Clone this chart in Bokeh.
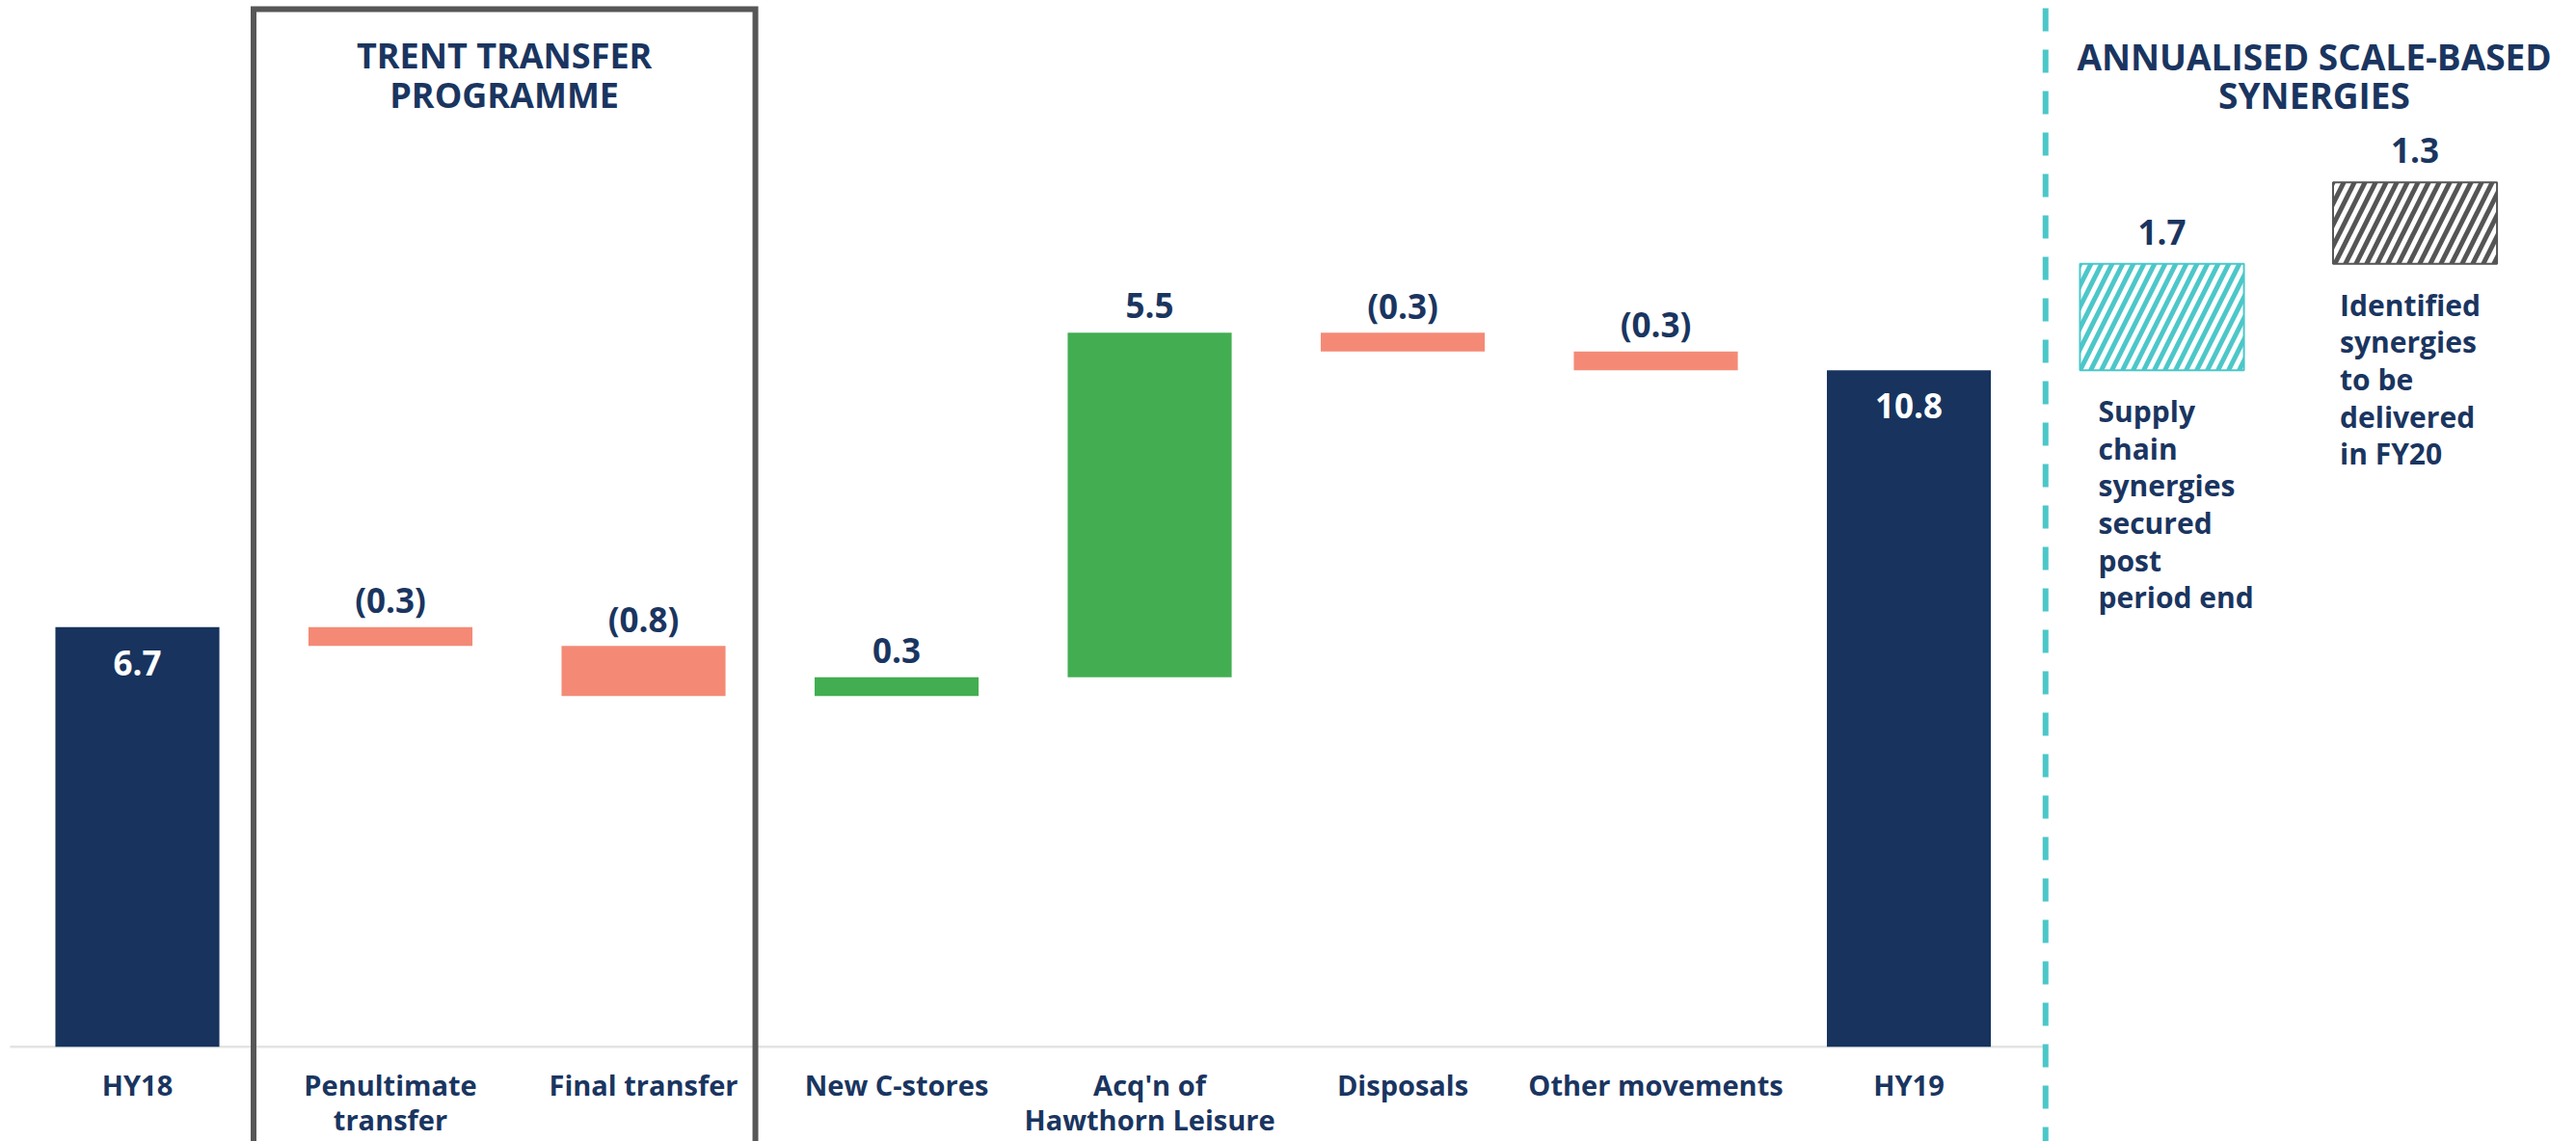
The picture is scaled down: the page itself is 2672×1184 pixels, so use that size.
from bokeh.plotting import figure
from bokeh.models import Range1d
from bokeh.embed import file_html
from bokeh.resources import INLINE
from bokeh.core.properties import value

# ---------------- data ----------------
categories = ["HY18", "Penultimate\ntransfer", "Final transfer", "New C-stores",
              "Acq'n of\nHawthorn Leisure", "Disposals", "Other movements", "HY19"]
changes = [6.7, -0.3, -0.8, 0.3, 5.5, -0.3, -0.3, 10.8]
is_total = [True, False, False, False, False, False, False, True]

synergy_values = [1.7, 1.3]
synergy_notes = ["Supply\nchain\nsynergies\nsecured\npost\nperiod end",
                 "Identified\nsynergies\nto be\ndelivered\nin FY20"]

group_title = "TRENT TRANSFER\nPROGRAMME"
synergy_title = "ANNUALISED SCALE-BASED\nSYNERGIES"

# ---------------- styles ----------------
NAVY = "#17335e"
TEXT = "#1a3560"
SALMON = "#f48a76"
GREEN = "#42ae51"
CYAN = "#4cc7c9"
BOXGRAY = "#575757"
HATCHGRAY = "#555555"
FONT = value("Open Sans")
BAR_W = 0.648

# ---------------- waterfall geometry ----------------
xs = list(range(len(categories)))
bottoms, tops, colors, labels = [], [], [], []
running = 0.0
for v, tot in zip(changes, is_total):
    if tot:
        b, t = 0.0, v
        running = v
        colors.append(NAVY)
        labels.append(f"{v:.1f}")
    else:
        b, t = min(running, running + v), max(running, running + v)
        running += v
        colors.append(GREEN if v >= 0 else SALMON)
        labels.append(f"{v:.1f}" if v >= 0 else f"({abs(v):.1f})")
    bottoms.append(b)
    tops.append(t)

syn_x = [len(categories), len(categories) + 1]
syn_bottoms, syn_tops = [], []
acc = changes[-1]
for v in synergy_values:
    syn_bottoms.append(acc)
    acc += v
    syn_tops.append(acc)

# ---------------- figure ----------------
p = figure(width=2672, height=1184,
           x_range=Range1d(-0.541, 9.638), y_range=Range1d(-1.512, 16.703),
           output_backend="svg", toolbar_location=None, min_border=0,
           x_axis_location=None, y_axis_location=None)
p.grid.visible = False
p.outline_line_color = None
p.background_fill_color = "white"
p.border_fill_color = "white"

# baseline
p.segment(x0=[-0.503], y0=[0], x1=[7.54], y1=[0], line_color="#e3e3e3", line_width=2.5)

# bars
p.vbar(x=xs, width=BAR_W, bottom=bottoms, top=tops, fill_color=colors, line_color=None)

# group box
p.line(x=[0.459, 0.459, 2.442, 2.442], y=[-2.0, 16.565, 16.565, -2.0],
       line_color=BOXGRAY, line_width=6, line_join="miter")

# dashed separator
p.segment(x0=[7.54], y0=[16.58], x1=[7.54], y1=[-1.7], line_color=CYAN,
          line_width=6, line_dash="24 19")

# synergy hatched bars
p.vbar(x=syn_x, width=BAR_W, bottom=syn_bottoms, top=syn_tops,
       fill_color="white", line_color=[CYAN, HATCHGRAY], line_width=2,
       hatch_pattern="/", hatch_color=[CYAN, HATCHGRAY], hatch_weight=5, hatch_scale=22)

# category labels
p.text(x=xs, y=[0] * len(xs), text=categories, text_align="center", text_baseline="top",
       y_offset=20, text_font=FONT, text_font_style="bold", text_font_size="29px",
       text_color=TEXT, text_line_height=0.93)

# value labels
dx = [x for x, t in zip(xs, is_total) if not t]
dy = [tp for tp, t in zip(tops, is_total) if not t]
dl = [l for l, t in zip(labels, is_total) if not t]
p.text(x=dx, y=dy, text=dl, text_align="center", text_baseline="middle", y_offset=-28,
       text_font=FONT, text_font_style="bold", text_font_size="35px", text_color=TEXT)
tx = [x for x, t in zip(xs, is_total) if t]
ty = [tp for tp, t in zip(tops, is_total) if t]
tl = [l for l, t in zip(labels, is_total) if t]
p.text(x=tx, y=ty, text=tl, text_align="center", text_baseline="middle", y_offset=37,
       text_font=FONT, text_font_style="bold", text_font_size="35px", text_color="white")

# synergy labels
p.text(x=syn_x, y=syn_tops, text=[f"{v:.1f}" for v in synergy_values], text_align="center",
       text_baseline="middle", y_offset=-33, text_font=FONT, text_font_style="bold",
       text_font_size="35px", text_color=TEXT)

note_dx = [-66, -78]
for x, b, note, off in zip(syn_x, syn_bottoms, synergy_notes, note_dx):
    p.text(x=[x], y=[b], text=[note], text_align="left", text_baseline="top",
           x_offset=off, y_offset=22, text_font=FONT, text_font_style="bold",
           text_font_size="30px", text_color=TEXT, text_line_height=0.942)

# titles
p.text(x=[1.45], y=[16.703], text=[group_title], text_align="center", text_baseline="top",
       y_offset=32, text_font=FONT, text_font_style="bold", text_font_size="36px",
       text_color=TEXT, text_line_height=0.846)
p.text(x=[8.602], y=[16.703], text=[synergy_title], text_align="center", text_baseline="top",
       y_offset=32, text_font=FONT, text_font_style="bold", text_font_size="37px",
       text_color=TEXT, text_line_height=0.794)

open("out.html", "w").write(file_html(p, INLINE))
